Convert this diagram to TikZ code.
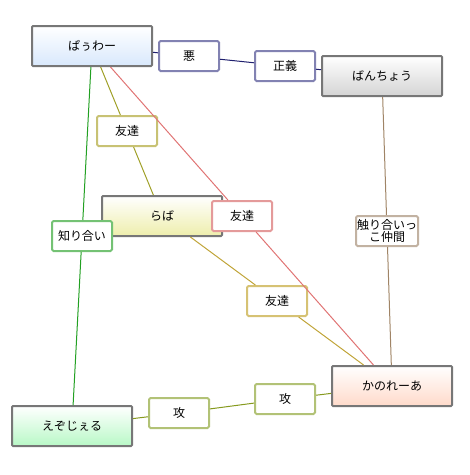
\documentclass[tikz,border=0pt]{standalone}
\usepackage{fontspec}
\setmainfont{Noto Sans CJK JP}
\usepackage{tikz}
\usetikzlibrary{positioning}
\definecolor{frame}{HTML}{777777}
\definecolor{bluebot}{HTML}{D8E8FC}
\definecolor{graybot}{HTML}{D4D4D4}
\definecolor{yellbot}{HTML}{EEEEAC}
\definecolor{greenbot}{HTML}{B8F8C6}
\definecolor{peachbot}{HTML}{FFDACA}
\definecolor{navyl}{HTML}{20206E}
\definecolor{navyb}{HTML}{8282B2}
\definecolor{olivel}{HTML}{A0A028}
\definecolor{oliveb}{HTML}{C8C274}
\definecolor{redl}{HTML}{E07474}
\definecolor{redb}{HTML}{E49A9A}
\definecolor{greenl}{HTML}{22A022}
\definecolor{greenb}{HTML}{74C274}
\definecolor{tanl}{HTML}{C0A438}
\definecolor{tanb}{HTML}{D6C274}
\definecolor{brownl}{HTML}{A08466}
\definecolor{brownb}{HTML}{C2B2A2}
\definecolor{atkl}{HTML}{869A1E}
\definecolor{atkb}{HTML}{B2C276}
\tikzstyle{chara}=[shape=rectangle, draw=frame, line width=2pt, rounded corners=1pt, minimum width=120pt, minimum height=40pt, inner sep=0pt, top color=white]
\tikzstyle{rel}=[shape=rectangle, fill=white, line width=2pt, rounded corners=1.5pt, minimum width=60pt, minimum height=30pt, inner sep=0pt, align=center]
\tikzstyle{link}=[line width=1pt]

\begin{document}
\begin{tikzpicture}[x=1pt, y=-1pt, font=\fontsize{12}{14}\selectfont]
\useasboundingbox (0,0) rectangle (470,475);
\node [chara, bottom color=bluebot](pawa) at (92,46){ぱぅわー};
\node [chara, bottom color=graybot](bancho) at (382,76){ばんちょう};
\node [chara, bottom color=yellbot](raba) at (162,216){らば};
\node [chara, bottom color=greenbot](ezo) at (72,426){えぞじぇる};
\node [chara, bottom color=peachbot](kano) at (392,386){かのれーあ};
\node [rel, draw=navyb](aku) at (189,56){悪};
\node [rel, draw=navyb](seigi) at (285,66){正義};
\node [rel, draw=oliveb](tomo1) at (127,131){友達};
\node [rel, draw=redb](tomo2) at (242,216){友達};
\node [rel, draw=greenb](shiri) at (82,236){知り合い};
\node [rel, draw=tanb](tomo3) at (277,301){友達};
\node [rel, draw=brownb, inner sep=1pt](sawa) at (387,231){触り合いっ\\[-2pt]こ仲間};
\node [rel, draw=atkb](kou1) at (179,413){攻};
\node [rel, draw=atkb](kou2) at (285,399){攻};
\draw [link, navyl] (pawa) -- (aku) -- (seigi) -- (bancho);
\draw [link, olivel] (pawa) -- (tomo1) -- (raba);
\draw [link, redl] (pawa) -- (tomo2) -- (kano);
\draw [link, greenl] (pawa) -- (shiri) -- (ezo);
\draw [link, tanl] (raba) -- (tomo3) -- (kano);
\draw [link, brownl] (bancho) -- (sawa) -- (kano);
\draw [link, atkl] (ezo) -- (kou1) -- (kou2) -- (kano);

\end{tikzpicture}
\end{document}
